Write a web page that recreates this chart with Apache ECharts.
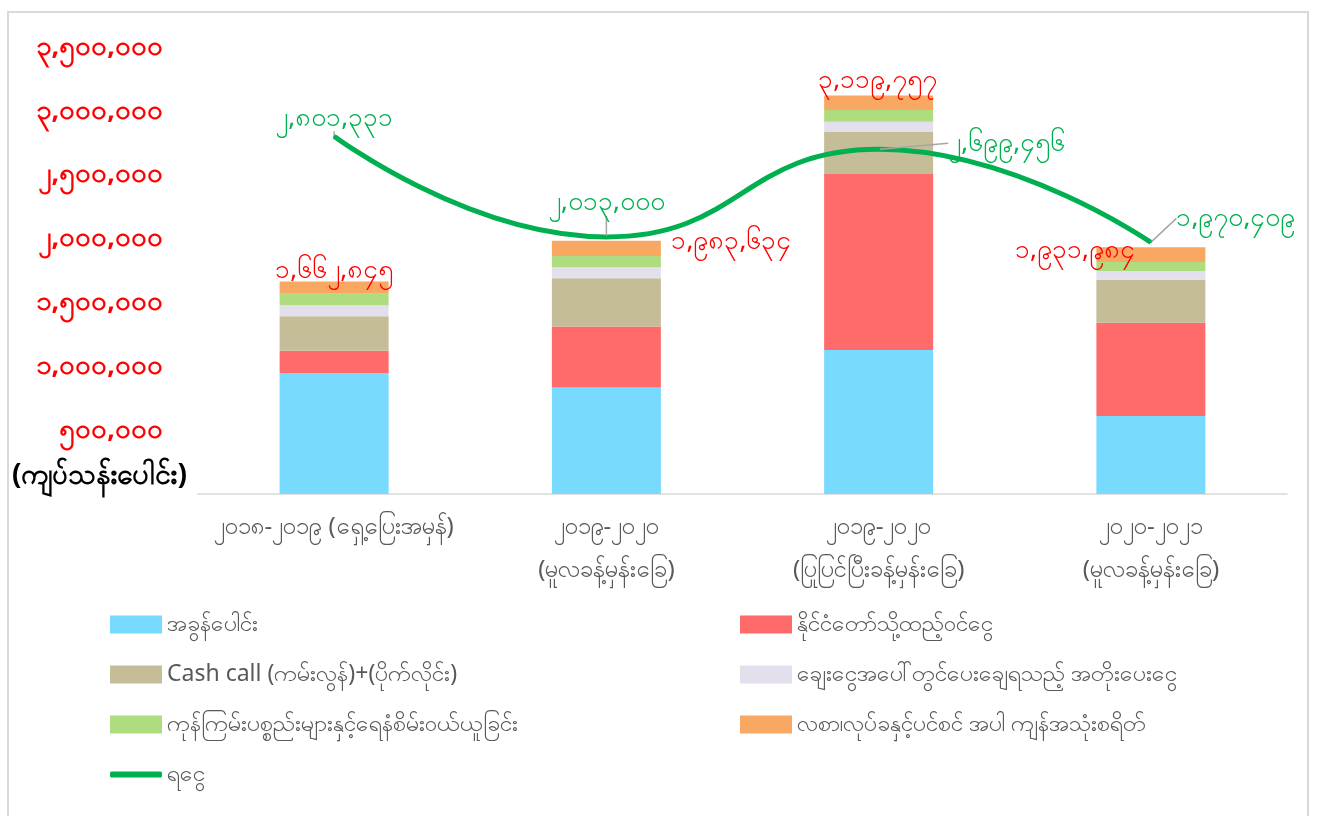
<!DOCTYPE html>
<html>
<head>
<meta charset="utf-8">
<title>chart</title>
<script src="https://cdn.jsdelivr.net/npm/echarts@6/dist/echarts.min.js"></script>
<style>
  html, body { margin: 0; padding: 0; background: #fff; }
  #chart { width: 1317px; height: 816px; }
</style>
</head>
<body>
<div id="chart"></div>
<script>
// categories (years)
const categories = [
  '၂၀၁၈-၂၀၁၉ (ရှေ့ပြေးအမှန်)',
  '၂၀၁၉-၂၀၂၀\n(မူလခန့်မှန်းခြေ)',
  '၂၀၁၉-၂၀၂၀\n(ပြုပြင်ပြီးခန့်မှန်းခြေ)',
  '၂၀၂၀-၂၀၂၁\n(မူလခန့်မှန်းခြေ)'
]

// stacked spending parts (kyat)
const taxes = [946000, 833000, 1127000, 611000]
const stateContribution = [175000, 479000, 1378000, 729000]
const cashCall = [270000, 378000, 330000, 338000]
const interestPaid = [87000, 85000, 79000, 69000]
const rawMaterials = [90000, 89000, 93000, 69000]
const salaryOther = [95000, 119000, 113000, 116000]

// totals shown above the bars, and the income line
const spendTotals = [1662845, 1983634, 3119757, 1931984]
const income = [2801331, 2013000, 2699456, 1970409]

// y axis ticks
const yMin = 0
const yMax = 3500000
const yStep = 500000

const seriesNames = [
  'အခွန်ပေါင်း',
  'နိုင်ငံတော်သို့ထည့်ဝင်ငွေ',
  'Cash call (ကမ်းလွန်)+(ပိုက်လိုင်း)',
  'ချေးငွေအပေါ်တွင်ပေးချေရသည့် အတိုးပေးငွေ',
  'ကုန်ကြမ်းပစ္စည်းများနှင့်ရေနံစိမ်းဝယ်ယူခြင်း',
  'လစာ၊လုပ်ခနှင့်ပင်စင် အပါ ကျန်အသုံးစရိတ်',
  'ရငွေ'
]
const unitLabel = '(ကျပ်သန်းပေါင်း)'

const colors = ['#79DAFF', '#FF6B6B', '#C4BD97', '#E4DFEC', '#B0DC80', '#F8A862']
const lineColor = '#00B050'
const font = '"Noto Sans", "DejaVu Sans", sans-serif'

const mmDigits = '၀၁၂၃၄၅၆၇၈၉'
function toMyanmar(n) {
  return n.toLocaleString('en-US').replace(/\d/g, d => mmDigits[d])
}

const chart = echarts.init(document.getElementById('chart'))

const stacks = [taxes, stateContribution, cashCall, interestPaid, rawMaterials, salaryOther]
// where the red totals sit, relative to the top of each bar
const totalOffsets = [[0, 6], [125, 18], [-1, 2], [-76, 20]]
// where the green income labels are moved to
const lineLabelMoves = [{}, { dy: -16 }, { dx: 128, dy: 12 }, { dx: 85, dy: -6 }]

const series = stacks.map((vals, i) => {
  const s = {
    name: seriesNames[i],
    type: 'bar',
    stack: 'spend',
    barWidth: 109,
    itemStyle: { color: colors[i] },
    data: vals
  }
  if (i === stacks.length - 1) {
    s.data = vals.map((v, j) => ({
      value: v,
      label: { offset: totalOffsets[j] }
    }))
    s.label = {
      show: true,
      position: 'top',
      distance: 4,
      color: '#FF0000',
      fontSize: 26,
      fontFamily: font,
      formatter: p => toMyanmar(spendTotals[p.dataIndex])
    }
  }
  return s
})

series.push({
  name: seriesNames[6],
  type: 'line',
  smooth: 0.5,
  symbol: 'circle',
  symbolSize: 2,
  showSymbol: true,
  itemStyle: { color: lineColor },
  lineStyle: { color: lineColor, width: 5 },
  z: 5,
  data: income.map((v, j) => j === 0 ? { value: v, label: { offset: [14, 2] } } : v),
  label: {
    show: true,
    position: 'top',
    distance: 4,
    color: lineColor,
    fontSize: 26,
    fontFamily: font,
    formatter: p => toMyanmar(p.value)
  },
  labelLine: {
    show: true,
    lineStyle: { color: '#A6A6A6', width: 1.5 }
  },
  labelLayout: p => lineLabelMoves[p.dataIndex]
})

// legend: two columns, one component per item
const legendSpots = [
  [110, 613], [740, 613],
  [110, 663], [740, 663],
  [110, 713], [740, 713],
  [110, 763]
]
const legends = seriesNames.map((name, i) => ({
  data: [{ name: name, icon: i < 6 ? 'rect' : 'roundRect' }],
  left: legendSpots[i][0],
  top: legendSpots[i][1],
  padding: 0,
  itemWidth: 52,
  itemHeight: i < 6 ? 18 : 6,
  selectedMode: false,
  textStyle: { color: '#595959', fontSize: 23, lineHeight: 18, fontFamily: font }
}))

chart.setOption({
  backgroundColor: '#fff',
  animation: false,
  grid: {
    left: 198,
    right: 30,
    top: 47,
    bottom: 322
  },
  legend: legends,
  xAxis: {
    type: 'category',
    data: categories,
    axisTick: { show: false },
    axisLine: { lineStyle: { color: '#D9D9D9', width: 1.5 } },
    axisLabel: {
      interval: 0,
      margin: 12,
      color: '#595959',
      fontSize: 24,
      lineHeight: 43,
      fontFamily: font
    }
  },
  yAxis: {
    type: 'value',
    min: yMin,
    max: yMax,
    interval: yStep,
    axisLine: { show: false },
    axisTick: { show: false },
    splitLine: { show: false },
    axisLabel: {
      margin: 35,
      color: '#FF0000',
      fontWeight: 'bold',
      fontSize: 27,
      fontFamily: font,
      formatter: v => v === 0 ? '' : toMyanmar(v)
    }
  },
  graphic: [
    {
      type: 'rect',
      z: -10,
      silent: true,
      shape: { x: 8, y: 12, width: 1300, height: 830 },
      style: { fill: 'none', stroke: '#D9D9D9', lineWidth: 2 }
    },
    {
      type: 'text',
      left: 12,
      top: 462,
      style: {
        text: unitLabel,
        fill: '#000',
        font: 'bold 28px ' + font
      }
    }
  ],
  series: series
})
</script>
</body>
</html>
